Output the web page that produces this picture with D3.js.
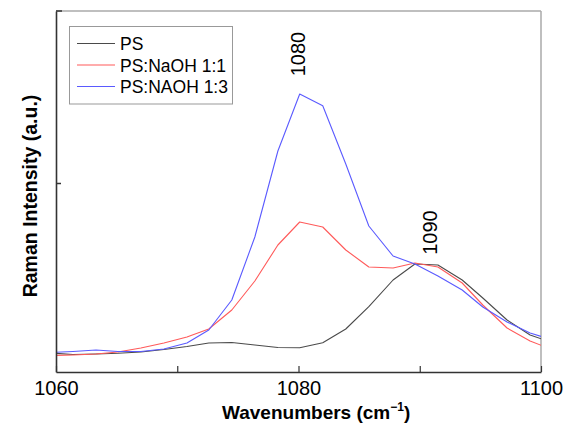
<!DOCTYPE html>
<html>
<head>
<meta charset="utf-8">
<script src="https://cdn.jsdelivr.net/npm/d3@7/dist/d3.min.js"></script>
<style>
  html, body { margin: 0; padding: 0; background: #fff; }
  svg { display: block; }
  text { font-family: "Liberation Sans", Arial, Helvetica, sans-serif; fill: #000; }
</style>
</head>
<body>
<svg id="chart" width="563" height="429"></svg>
<script>
// ---- data ----
const wavenumbers = [1059.5, 1061.4, 1063.3, 1065.1, 1067.0, 1068.9, 1070.8, 1072.6, 1074.5, 1076.4, 1078.3, 1080.1,
                     1082.0, 1083.9, 1085.8, 1087.8, 1089.6, 1091.5, 1093.5, 1095.2, 1097.2, 1099.1, 1101.0];
const psValues    = [190, 175, 180, 187, 200, 225, 255, 290, 295, 270, 245, 243,
                     293, 430, 653, 920, 1080, 1070, 920, 740, 520, 370, 290];
const naoh11Values = [165, 170, 180, 200, 240, 290, 350, 430, 620, 910, 1270, 1500,
                      1450, 1220, 1050, 1040, 1090, 1050, 890, 670, 440, 310, 220];
const naoh13Values = [195, 205, 220, 205, 205, 230, 290, 420, 720, 1350, 2210, 2780,
                      2663, 2080, 1460, 1160, 1080, 960, 820, 650, 500, 390, 320];
const seriesNames = ["PS", "PS:NaOH 1:1", "PS:NAOH 1:3"];
const seriesColors = ["#4a4a4a", "#ff5a5a", "#5a5aff"];
const xTickValues = [1060, 1070, 1080, 1090, 1100];
const xTickLabels = ["1060", "", "1080", "", "1100"];
const yTickValues = [1890];
const peakLabels = [{x: 1079.9, y: 3180, text: "1080"}, {x: 1090.8, y: 1395, text: "1090"}];

// ---- layout ----
const svg = d3.select("#chart");
const L = 56, R = 541, T = 11, B = 372;
const x = d3.scaleLinear().domain([1060, 1100]).range([L, R]);
const y = d3.scaleLinear().domain([0, 3610]).range([B, T]);

svg.append("defs").append("clipPath").attr("id", "plotclip")
  .append("rect").attr("x", L).attr("y", T).attr("width", R - L).attr("height", B - T);

// frame top/right (grey)
svg.append("line").attr("x1", L).attr("x2", R).attr("y1", T).attr("y2", T)
  .attr("stroke", "#aaa").attr("stroke-width", 1.5);
svg.append("line").attr("x1", R).attr("x2", R).attr("y1", T).attr("y2", B)
  .attr("stroke", "#aaa").attr("stroke-width", 1.5);
svg.append("line").attr("x1", L).attr("x2", L + 6).attr("y1", T).attr("y2", T)
  .attr("stroke", "#333").attr("stroke-width", 1.5);

// series
const allSeries = [psValues, naoh11Values, naoh13Values];
const line = d3.line().x((d, i) => x(wavenumbers[i])).y(d => y(d));
const g = svg.append("g").attr("clip-path", "url(#plotclip)");
allSeries.forEach((vals, k) => {
  g.append("path").datum(vals).attr("d", line)
    .attr("fill", "none").attr("stroke", seriesColors[k]).attr("stroke-width", 1.1)
    .attr("stroke-linejoin", "round");
});

// x axis
const xAxis = d3.axisBottom(x).tickValues(xTickValues)
  .tickFormat((d, i) => xTickLabels[i]).tickSizeInner(-6).tickSizeOuter(0).tickPadding(9);
const xg = svg.append("g").attr("transform", `translate(0,${B})`).call(xAxis);
xg.select(".domain").attr("stroke", "#333").attr("stroke-width", 1.6);
xg.selectAll(".tick line").attr("stroke", "#333").attr("stroke-width", 1.2);
xg.selectAll(".tick text").attr("font-size", 20).attr("font-family", "Liberation Sans, Arial, sans-serif").attr("fill", "#000");

// y axis
const yAxis = d3.axisLeft(y).tickValues(yTickValues).tickFormat("").tickSizeInner(-5).tickSizeOuter(0);
const yg = svg.append("g").attr("transform", `translate(${L},0)`).call(yAxis);
yg.select(".domain").attr("stroke", "#333").attr("stroke-width", 1.6);
yg.selectAll(".tick line").attr("stroke", "#333").attr("stroke-width", 1.5);

// axis titles
const xt = svg.append("text").attr("x", 222).attr("y", 419)
  .attr("font-size", 19).attr("font-weight", "bold");
xt.append("tspan").text("Wavenumbers (cm");
xt.append("tspan").attr("dy", -8).attr("font-size", 12).text("\u22121");
xt.append("tspan").attr("dy", 8).text(")");

svg.append("text").attr("transform", "translate(37,196) rotate(-90)")
  .attr("text-anchor", "middle").attr("font-size", 19.5).attr("font-weight", "bold")
  .text("Raman Intensity (a.u.)");

// peak labels
peakLabels.forEach(p => {
  svg.append("text").attr("transform", `translate(${x(p.x) + 7.5},${y(p.y)}) rotate(-90)`)
    .attr("text-anchor", "middle").attr("font-size", 20).text(p.text);
});

// legend
const lg = svg.append("g");
lg.append("rect").attr("x", 69.5).attr("y", 26.5).attr("width", 163).attr("height", 77.5)
  .attr("fill", "#fff").attr("stroke", "#999").attr("stroke-width", 1);
seriesNames.forEach((name, i) => {
  const yy = 43.5 + i * 21.5;
  lg.append("line").attr("x1", 77).attr("x2", 115).attr("y1", yy).attr("y2", yy)
    .attr("stroke", seriesColors[i]).attr("stroke-width", 1.1);
  lg.append("text").attr("x", 120).attr("y", yy + 6.5).attr("font-size", 17.5).text(name);
});
</script>
</body>
</html>
